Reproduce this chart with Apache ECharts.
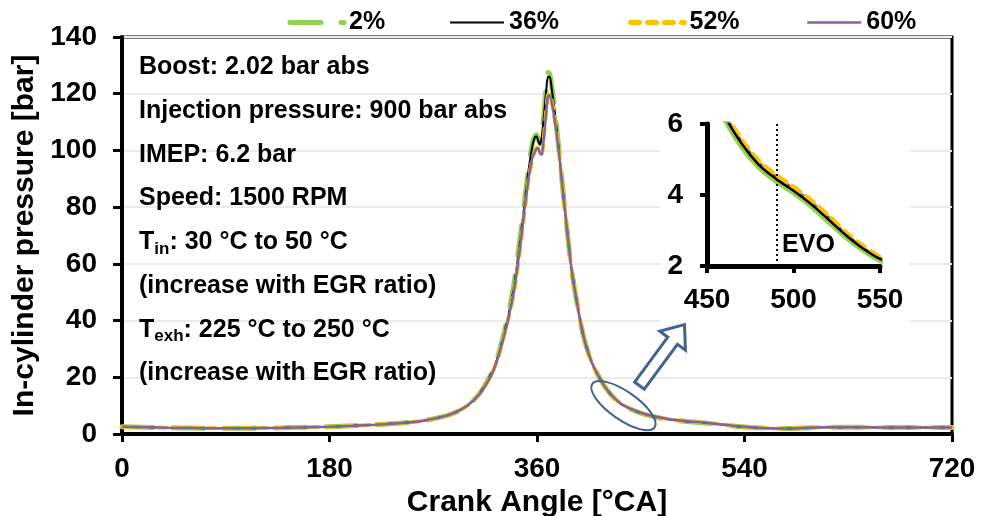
<!DOCTYPE html>
<html><head><meta charset="utf-8">
<script src="https://cdn.jsdelivr.net/npm/echarts@6/dist/echarts.min.js"></script>
<style>html,body{margin:0;padding:0;background:#fff}#c{width:981px;height:516px}</style>
</head><body><div id="c"></div>
<script>
// ---- data ----
const crankAngle = [0,20,40,60,80,100,120,140,160,180,200,220,240,260,280,290,300,310,320,325,330,335,340,345,350,353,356,358,359.5,361,362.5,364,366,368,369.5,371,373,375,378,381,385,390,395,400,405,410,420,430,440,450,460,470,480,490,500,510,520,530,540,550,560,575,590,610,640,680,720];
const egr2 = [2.6,2.4,2.2,2.1,2.0,2.0,2.1,2.2,2.4,2.6, 2.9,3.3,3.8,4.6,6.3,7.8,10.2,14.2,21,26, 33.5,42,53,68,85,95,102.5,105,105.5,104, 102.5,105,113,122.5,127.5,127,122,116,104.5,92, 76,58,45.5,35,28,23,16,11.5,9,7.4, 6.2,5.38,4.8,4.4,4.08,3.71,3.27,2.84,2.47,2.17, 2.05,1.95,2.1,2.4,2.35,2.3,2.3];
const egr36 = [2.6,2.4,2.2,2.1,2.0,2.0,2.1,2.2,2.4,2.6, 2.9,3.3,3.8,4.6,6.3,7.8,10.2,14.2,21,26, 33,41.5,52,67,84,94,101.5,104.5,105,103.5, 102,104.5,112,121,126,126,121,115,104,92, 76,58,45.5,35,28,23,16,11.5,9,7.4, 6.25,5.45,4.85,4.45,4.12,3.75,3.32,2.88,2.5,2.2, 2.05,1.95,2.1,2.4,2.35,2.3,2.3];
const egr52 = [2.6,2.4,2.2,2.1,2.0,2.0,2.1,2.2,2.4,2.6, 2.9,3.3,3.8,4.6,6.3,7.8,10.1,14.0,20.5,25.5, 32.5,40.5,50,64,81,90.5,97,99.5,100.8,101, 99.2,98.8,105,114,119.5,120,117,112,103,91.5, 76,58,45.5,35,28,23,16,11.6,9.1,7.5, 6.35,5.55,4.95,4.55,4.22,3.85,3.42,2.95,2.56,2.25, 2.05,1.95,2.1,2.4,2.35,2.3,2.3];
const egr60 = [2.6,2.4,2.2,2.1,2.0,2.0,2.1,2.2,2.4,2.6, 2.9,3.3,3.8,4.6,6.3,7.8,10.1,14.0,20.5,25.5, 32.5,40.5,50.5,65,82,91,97.5,99.5,100.5,100.8, 99,98.5,104.5,113.5,119,119.5,116.5,111.5,103,91.5, 76,58,45.5,35,28,23,16,11.6,9.1,7.5, 6.32,5.52,4.92,4.52,4.19,3.82,3.39,2.92,2.53,2.23, 2.05,1.95,2.1,2.4,2.35,2.3,2.3];
const seriesNames = ['2%','36%','52%','60%'];
const evoAngle = 490.5;
const mainX = {min:0, max:720, interval:180};
const mainY = {min:0, max:140, interval:20};
const insetX = {min:450, max:550, interval:50};
const insetY = {min:2, max:6, interval:2};
const notes = [
  {t:'Boost: 2.02 bar abs'},
  {t:'Injection pressure: 900 bar abs'},
  {t:'IMEP: 6.2 bar'},
  {t:'Speed: 1500 RPM'},
  {pre:'T', sub:'in', post:': 30 °C to 50 °C'},
  {t:'(increase with EGR ratio)'},
  {pre:'T', sub:'exh', post:': 225 °C to 250 °C'},
  {t:'(increase with EGR ratio)'}
];

// ---- chart ----
const FONT = '"Liberation Sans", Arial, sans-serif';
const pair = arr => crankAngle.map((a,i)=>[a, arr[i]]);
const styles = {
  '2%':  {color:'#92d050', width:5, type:[31,20], cap:'round'},
  '36%': {color:'#000000', width:2, type:'solid', cap:'butt'},
  '52%': {color:'#ffc000', width:4, type:[9,8], cap:'round'},
  '60%': {color:'#8064a2', width:2.5, type:'solid', cap:'butt'}
};
const legendStyles = {
  '2%':  {color:'#92d050', width:5, type:[31,20], cap:'round'},
  '36%': {color:'#000000', width:2, type:'solid', cap:'butt'},
  '52%': {color:'#ffc000', width:5, type:[9,8], cap:'round'},
  '60%': {color:'#8064a2', width:2.5, type:'solid', cap:'butt'}
};
const dataMap = {'2%':egr2, '36%':egr36, '52%':egr52, '60%':egr60};

function mkSeries(name, idx, extra){
  const s = styles[name];
  return Object.assign({
    name, type:'line', data: pair(dataMap[name]), symbol:'none', showSymbol:false,
    smooth:0.3, xAxisIndex:idx, yAxisIndex:idx, clip:true, color:s.color,
    lineStyle:{color:s.color, width:s.width, type:s.type, cap:s.cap}
  }, extra||{});
}

const tickLabel = {fontSize:28, fontWeight:'bold', color:'#000', fontFamily:FONT};
const legendLefts = [287.5, 449, 628, 806];

const option = {
  animation:false,
  backgroundColor:'#fff',
  textStyle:{fontFamily:FONT},
  legend: seriesNames.map((n,i)=>({
    data:[n], left:legendLefts[i], top:10, padding:0, itemWidth:54, itemHeight:14, itemGap:0,
    itemStyle:{opacity:0}, lineStyle:legendStyles[n],
    textStyle:{fontSize:25, fontWeight:'bold', color:'#000', fontFamily:FONT, lineHeight:25},
    selectedMode:false
  })),
  grid:[
    {left:122, right:29, top:37, bottom:82, show:true, borderColor:'#000', borderWidth:3,
     containLabel:false, outerBoundsMode:'none'},
    {left:707, top:124, width:173, height:142, containLabel:false, outerBoundsMode:'none'}
  ],
  xAxis:[
    {type:'value', gridIndex:0, min:mainX.min, max:mainX.max, interval:mainX.interval,
     axisLine:{show:true, onZero:false, lineStyle:{color:'#000', width:4}},
     axisTick:{show:true, length:8, lineStyle:{color:'#000', width:3}},
     axisLabel:Object.assign({margin:21}, tickLabel),
     splitLine:{show:false},
     name:'Crank Angle [°CA]', nameLocation:'middle', nameGap:42,
     nameTextStyle:{fontSize:30, fontWeight:'bold', color:'#000', fontFamily:FONT}},
    {type:'value', gridIndex:1, min:insetX.min, max:insetX.max, interval:insetX.interval, z:5,
     axisLine:{show:true, onZero:false, lineStyle:{color:'#000', width:5}},
     axisTick:{show:true, length:7, lineStyle:{color:'#000', width:4}},
     axisLabel:Object.assign({margin:20}, tickLabel),
     splitLine:{show:false}}
  ],
  yAxis:[
    {type:'value', gridIndex:0, min:mainY.min, max:mainY.max, interval:mainY.interval,
     axisLine:{show:true, onZero:false, lineStyle:{color:'#000', width:4}},
     axisTick:{show:true, length:9, lineStyle:{color:'#000', width:3}},
     axisLabel:Object.assign({margin:25}, tickLabel),
     splitLine:{show:true, lineStyle:{color:'#ebebeb', width:2}},
     name:'In-cylinder pressure [bar]', nameLocation:'middle', nameGap:78,
     nameTextStyle:{fontSize:30, fontWeight:'bold', color:'#000', fontFamily:FONT}},
    {type:'value', gridIndex:1, min:insetY.min, max:insetY.max, interval:insetY.interval, z:5,
     axisLine:{show:true, onZero:false, lineStyle:{color:'#000', width:5}},
     axisTick:{show:true, length:7, lineStyle:{color:'#000', width:4}},
     axisLabel:Object.assign({margin:24}, tickLabel),
     splitLine:{show:false}}
  ],
  series:[
    mkSeries('2%',0), mkSeries('36%',0), mkSeries('52%',0), mkSeries('60%',0),
    mkSeries('2%',1,{lineStyle:{color:'#92d050', width:6, type:'solid'}}),
    mkSeries('60%',1),
    mkSeries('52%',1,{lineStyle:{color:'#ffc000', width:5, type:[9,8], cap:'round'}}),
    mkSeries('36%',1,{lineStyle:{color:'#000', width:2.5},
      markLine:{silent:true, symbol:'none', label:{show:false},
        lineStyle:{type:[2,3], color:'#000', width:2},
        data:[{xAxis:evoAngle}]}})
  ]
};

const chart = echarts.init(document.getElementById('c'), null, {renderer:'canvas'});
chart.setOption(option);

// ---- annotations ----
const ctx = document.createElement('canvas').getContext('2d');
const fMain = 'bold 25px ' + FONT, fSub = 'bold 17px ' + FONT;
function w(t, f){ ctx.font = f; return ctx.measureText(t).width; }
const graphics = [];
graphics.push({type:'rect', id:'insetBg', z:1, silent:true,
  shape:{x:660, y:100, width:250, height:222}, style:{fill:'#fff'}});
const noteX = 139, noteY0 = 67.5, noteDy = 43.7;
notes.forEach((n,i)=>{
  const y = noteY0 + i*noteDy;
  if (n.t) {
    graphics.push({type:'text', z:10, silent:true, style:{text:n.t, x:noteX, y, font:fMain, fill:'#000', textVerticalAlign:'middle', verticalAlign:'middle'}});
  } else {
    const w1 = w(n.pre, fMain), w2 = w(n.sub, fSub);
    graphics.push({type:'text', z:10, silent:true, style:{text:n.pre, x:noteX, y, font:fMain, fill:'#000', textVerticalAlign:'middle', verticalAlign:'middle'}});
    graphics.push({type:'text', z:10, silent:true, style:{text:n.sub, x:noteX+w1, y:y+7, font:fSub, fill:'#000', textVerticalAlign:'middle', verticalAlign:'middle'}});
    graphics.push({type:'text', z:10, silent:true, style:{text:n.post, x:noteX+w1+w2, y, font:fMain, fill:'#000', textVerticalAlign:'middle', verticalAlign:'middle'}});
  }
});
// EVO label
const evoPt = chart.convertToPixel({xAxisIndex:1, yAxisIndex:1}, [evoAngle, 2.6]);
graphics.push({type:'text', z:10, silent:true, style:{text:'EVO', x:evoPt[0]+5, y:evoPt[1], font:'bold 25px '+FONT, fill:'#000', textVerticalAlign:'middle', verticalAlign:'middle'}});
// ellipse highlight around the exhaust region
const ec = chart.convertToPixel({xAxisIndex:0, yAxisIndex:0}, [435, 10]);
graphics.push({type:'ellipse', z:10, silent:true, x:ec[0], y:ec[1], rotation:-0.61,
  shape:{cx:0, cy:0, rx:38, ry:14}, style:{fill:null, stroke:'#41648f', lineWidth:2}});
// block arrow
const tail = [ec[0]+16, ec[1]-20], tip = [ec[0]+61, ec[1]-81];
const dx = tip[0]-tail[0], dy = tip[1]-tail[1], L = Math.hypot(dx,dy);
const ux = dx/L, uy = dy/L, nx = -uy, ny = ux;
const hw = 6, hh = 16, hl = 20;
const bx = tip[0]-ux*hl, by = tip[1]-uy*hl;
const pts = [
  [tail[0]+nx*hw, tail[1]+ny*hw], [bx+nx*hw, by+ny*hw], [bx+nx*hh, by+ny*hh], tip,
  [bx-nx*hh, by-ny*hh], [bx-nx*hw, by-ny*hw], [tail[0]-nx*hw, tail[1]-ny*hw]
];
graphics.push({type:'polygon', z:10, silent:true, shape:{points:pts}, style:{fill:'#fff', stroke:'#41648f', lineWidth:3}});
chart.setOption({graphic:graphics});
</script></body></html>
